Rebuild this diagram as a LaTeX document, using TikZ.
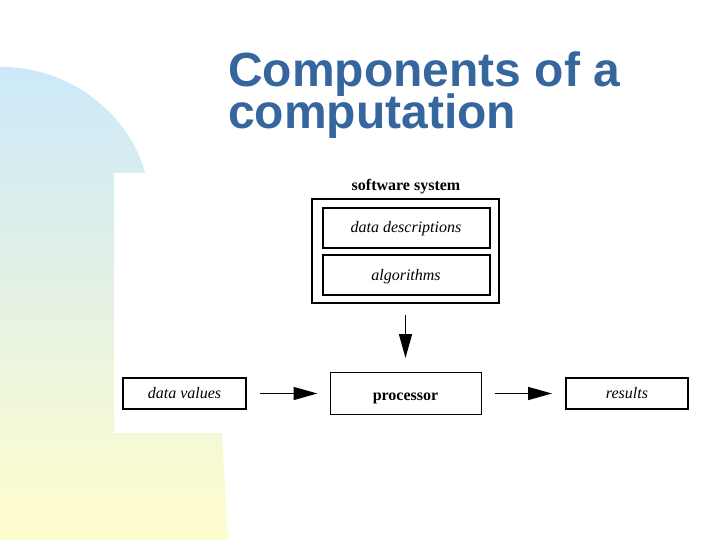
\documentclass[tikz,border=0pt]{standalone}
\usepackage{fontspec}
\setmainfont{Liberation Serif}
\newfontfamily\titlefont{Liberation Sans}
\usetikzlibrary{arrows.meta}
\definecolor{titleblue}{RGB}{54,102,158}
\definecolor{bgtop}{RGB}{204,232,250}
\definecolor{bgbottom}{RGB}{255,253,204}
\tikzset{
  boxthin/.style={draw=black, line width=1pt, inner sep=0pt},
  boxthick/.style={draw=black, line width=2pt, inner sep=0pt},
  flow/.style={line width=1.5pt, -{Triangle[length=24pt,width=13pt]}},
  lbl/.style={font=\fontsize{16}{19}\selectfont\itshape, text height=14pt, text depth=4pt},
  blbl/.style={font=\fontsize{16}{19}\selectfont\bfseries, text height=11pt, text depth=3.5pt},
  titletext/.style={anchor=base west, inner sep=0pt, text=titleblue,
      font=\titlefont\fontsize{48}{40}\selectfont\bfseries},
}
\begin{document}
\begin{tikzpicture}[x=1pt,y=-1pt]
\useasboundingbox (0,0) rectangle (720,540);
% background decoration
\shade[top color=bgtop, bottom color=bgbottom]
  (0,540) -- (0,67) .. controls (70,66) and (130,115) .. (145,173)
  -- (114,173) -- (114,433) -- (222,433) -- (228,540) -- cycle;
% title
\node[titletext, text depth=0pt] (title1) at (228,87) {Components of a};
\node[titletext, text height=26pt] (title2) at (228,129) {computation};
% software system
\node[blbl, inner sep=0pt] (swlabel) at (406,187) {software system};
\node[draw=black, line width=1.5pt, minimum width=187pt, minimum height=104pt, inner sep=0pt] (sw) at (405.5,251) {};
\node[boxthick, lbl, minimum width=167pt, minimum height=40pt] (desc) at (406,228) {data descriptions};
\node[boxthick, lbl, minimum width=167pt, minimum height=40pt] (alg) at (406,275) {algorithms};
% bottom row
\node[boxthick, lbl, minimum width=123pt, minimum height=31pt] (dv) at (184.5,393.5) {data values};
\node[boxthin, blbl, text height=15pt, text depth=2pt, minimum width=151pt, minimum height=42pt] (proc) at (405.5,393.5) {processor};
\node[boxthick, lbl, minimum width=122pt, minimum height=31pt] (res) at (627,393.5) {results};
% arrows
\draw[flow, shorten <=11pt, shorten >=14pt] (sw.south) -- (sw.south |- proc.north);
\draw[flow, shorten <=13pt, shorten >=12pt] (dv.east) -- (proc.west |- dv.east);
\draw[flow, shorten <=13pt, shorten >=13pt] (proc.east |- res.west) -- (res.west);
\end{tikzpicture}
\end{document}
